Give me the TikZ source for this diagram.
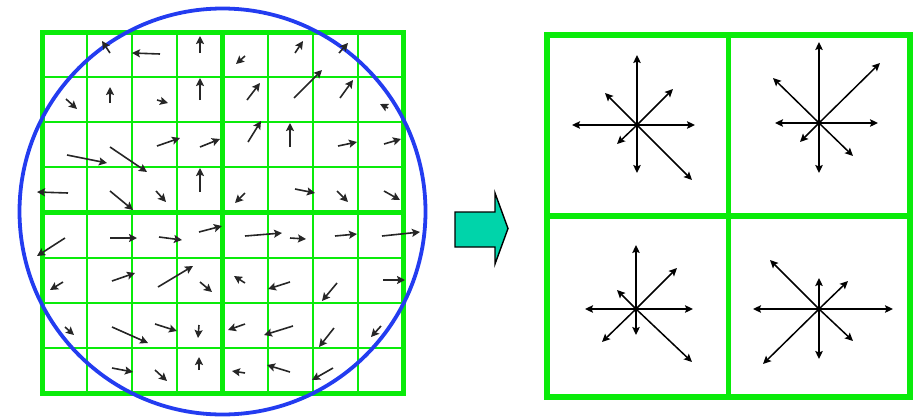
\documentclass[tikz,border=0pt]{standalone}
\usetikzlibrary{arrows.meta}
\definecolor{gridgreen}{RGB}{10,235,10}
\definecolor{circblue}{RGB}{35,60,240}
\definecolor{teal2}{RGB}{0,212,170}
\tikzset{
  vec/.style={-{Stealth[length=8pt,width=8pt,inset=1.5pt]}, line width=1.6pt, black!85},
  star/.style={-{Stealth[length=8pt,width=7.5pt,inset=1.5pt]}, line width=1.5pt, black},
  thin grid/.style={gridgreen, line width=2pt},
  thick grid/.style={gridgreen, line width=5pt},
}
\begin{document}
\begin{tikzpicture}[x=1pt,y=-1pt]
\useasboundingbox (0,0) rectangle (915,418);
% left grid
\foreach \k in {1,2,3,5,6,7}{
  \draw[thin grid] ({42+45.125*\k},32) -- ({42+45.125*\k},393);
  \draw[thin grid] (42,{32+45.125*\k}) -- (403,{32+45.125*\k});
}
\draw[thick grid] (222.5,32) -- (222.5,393);
\draw[thick grid] (42,212.5) -- (403,212.5);
\draw[thick grid] (42,32) rectangle (403,393);
% circle
\draw[circblue, line width=3.8pt] (222.5,211.5) circle (203);
% left arrows: row 0
\draw[vec] (110,53) -- (102,41);
\draw[vec] (160,54) -- (132,53);
\draw[vec] (200,53) -- (200,36);
\draw[vec] (245,56) -- (236,64);
\draw[vec] (295,53) -- (303,41);
\draw[vec] (339,53) -- (348,43);
% row 1
\draw[vec] (66,99) -- (77,109);
\draw[vec] (110,103) -- (110,87);
\draw[vec] (157,100) -- (168,103);
\draw[vec] (200,100) -- (200,78);
\draw[vec] (247,100) -- (260,83);
\draw[vec] (294,98) -- (322,70);
\draw[vec] (340,98) -- (353,80);
\draw[vec] (388,108) -- (380,104);
% row 2
\draw[vec] (67,155) -- (107,163);
\draw[vec] (110,147) -- (147,172);
\draw[vec] (157,146) -- (180,138);
\draw[vec] (200,147) -- (220,139);
\draw[vec] (248,142) -- (261,121);
\draw[vec] (290,147) -- (290,123);
\draw[vec] (338,146) -- (357,142);
\draw[vec] (384,144) -- (401,139);
% row 3
\draw[vec] (68,193) -- (37,192);
\draw[vec] (110,191) -- (133,210);
\draw[vec] (156,191) -- (166,202);
\draw[vec] (200,192) -- (200,168);
\draw[vec] (245,193) -- (235,203);
\draw[vec] (295,189) -- (315,193);
\draw[vec] (337,191) -- (348,202);
\draw[vec] (384,191) -- (400,200);
% row 4
\draw[vec] (65,238) -- (37,256);
\draw[vec] (110,238) -- (137,238);
\draw[vec] (159,237) -- (182,240);
\draw[vec] (199,232) -- (222,226);
\draw[vec] (245,236) -- (282,233);
\draw[vec] (290,238) -- (306,239);
\draw[vec] (335,236) -- (357,234);
\draw[vec] (382,236) -- (420,232);
% row 5
\draw[vec] (63,282) -- (50,290);
\draw[vec] (112,281) -- (135,273);
\draw[vec] (158,287) -- (193,266);
\draw[vec] (200,282) -- (212,292);
\draw[vec] (245,283) -- (234,276);
\draw[vec] (290,282) -- (268,289);
\draw[vec] (337,283) -- (322,301);
\draw[vec] (383,280) -- (405,280);
% row 6
\draw[vec] (65,327) -- (74,335);
\draw[vec] (112,327) -- (148,343);
\draw[vec] (155,324) -- (177,331);
\draw[vec] (199,325) -- (198,338);
\draw[vec] (245,324) -- (228,330);
\draw[vec] (293,326) -- (264,335);
\draw[vec] (334,328) -- (319,347);
\draw[vec] (381,326) -- (371,337);
% row 7
\draw[vec] (112,368) -- (133,372);
\draw[vec] (155,370) -- (167,381);
\draw[vec] (199,370) -- (199,357);
\draw[vec] (245,373) -- (232,371);
\draw[vec] (290,372) -- (267,365);
\draw[vec] (333,368) -- (312,380);
% block arrow
\draw[fill=teal2, line width=1.4pt, line join=miter]
  (455,212) -- (495,212) -- (495,193) -- (508,228.5) -- (495,264) -- (495,247) -- (455,247) -- cycle;
% right grid
\draw[gridgreen, line width=5.5pt] (728.5,35) -- (728.5,397);
\draw[gridgreen, line width=5.5pt] (547,216) -- (910,216);
\draw[gridgreen, line width=5.5pt] (547,35) rectangle (910,397);
% stars
\coordinate (c1) at (637,125);
\foreach \p in {(637,55),(637,173),(695,125),(572,125),(673,89),(605,93),(617,144),(692,180)}
  \draw[star] (c1) -- \p;
\coordinate (c2) at (819,123);
\foreach \p in {(819,42),(819,173),(878,123),(775,123),(880,63),(773,78),(800,142),(853,156)}
  \draw[star] (c2) -- \p;
\coordinate (c3) at (636,309);
\foreach \p in {(636,245),(636,335),(693,309),(585,309),(677,268),(617,290),(602,342),(692,362)}
  \draw[star] (c3) -- \p;
\coordinate (c4) at (819,309);
\foreach \p in {(819,278),(819,359),(893,309),(753,309),(848,281),(770,260),(763,364),(853,341)}
  \draw[star] (c4) -- \p;
\end{tikzpicture}
\end{document}
